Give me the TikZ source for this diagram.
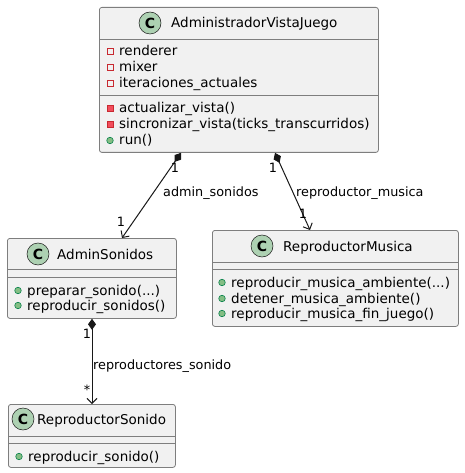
\documentclass[tikz,border=0pt]{standalone}
\usepackage{fontspec}
\setmainfont{DejaVu Sans}
\usetikzlibrary{arrows.meta}
\definecolor{line}{HTML}{181818}
\definecolor{boxline}{HTML}{7E7E7E}
\definecolor{boxbg}{HTML}{F1F1F1}
\definecolor{spotbg}{HTML}{ADD1B2}
\definecolor{privline}{HTML}{C82930}
\definecolor{privbg}{HTML}{F24D5C}
\definecolor{publine}{HTML}{038048}
\definecolor{pubbg}{HTML}{84BE84}

\begin{document}
\begin{tikzpicture}[x=1pt, y=-1pt,
  cls/.style={draw=boxline, fill=boxbg, line width=0.8pt, rounded corners=2.5pt, anchor=north west, inner sep=0pt},
  sep/.style={draw=boxline, line width=0.8pt},
  spot/.style={circle, draw=line, fill=spotbg, line width=0.5pt, minimum size=22pt, inner sep=0pt, font=\fontsize{14}{14}\selectfont\bfseries},
  title/.style={anchor=base west, inner sep=0pt, font=\fontsize{13.5}{16}\selectfont},
  mem/.style={anchor=base west, inner sep=0pt, font=\fontsize{13.5}{16}\selectfont},
  privf/.style={rectangle, draw=privline, line width=0.6pt, minimum size=6pt, inner sep=0pt},
  privm/.style={privf, fill=privbg},
  pubm/.style={circle, draw=publine, fill=pubbg, line width=0.6pt, minimum size=6.5pt, inner sep=0pt},
  lbl/.style={anchor=base west, inner sep=0pt, font=\fontsize{12.8}{15}\selectfont},
  mult/.style={inner sep=0pt, font=\fontsize{12.8}{15}\selectfont},
  comp/.style={draw=line, line width=1pt, {Diamond[length=11pt,width=8pt]}-{Straight Barb[length=5pt,width=10pt]}}]
  \useasboundingbox (0,0) rectangle (464,473);

  % AdministradorVistaJuego
  \node[cls, minimum width=279pt, minimum height=145pt] (av) at (99,7) {};
  \draw[sep] ([yshift=-32pt]av.north west) -- ([yshift=-32pt]av.north east);
  \draw[sep] ([yshift=-88pt]av.north west) -- ([yshift=-88pt]av.north east);
  \node[spot]  (av-c)  at (150,23) {C};
  \node[title] (av-t)  at (171,28) {AdministradorVistaJuego};
  \node[privf] (av-i1) at (110,51.5) {};
  \node[mem]   (av-f1) at (119,56) {renderer};
  \node[privf] (av-i2) at (110,67.5) {};
  \node[mem]   (av-f2) at (119,72) {mixer};
  \node[privf] (av-i3) at (110,83.5) {};
  \node[mem]   (av-f3) at (119,88) {iteraciones\_actuales};
  \node[privm] (av-i4) at (110,108.5) {};
  \node[mem]   (av-m1) at (119,113) {actualizar\_vista()};
  \node[privm] (av-i5) at (110,124.5) {};
  \node[mem]   (av-m2) at (119,129) {sincronizar\_vista(ticks\_transcurridos)};
  \node[pubm]  (av-i6) at (110,140.5) {};
  \node[mem]   (av-m3) at (119,145) {run()};

  % AdminSonidos
  \node[cls, minimum width=169pt, minimum height=80pt] (as) at (7,238) {};
  \draw[sep] ([yshift=-31pt]as.north west) -- ([yshift=-31pt]as.north east);
  \draw[sep] ([yshift=-39pt]as.north west) -- ([yshift=-39pt]as.north east);
  \node[spot]  (as-c)  at (38,254) {C};
  \node[title] (as-t)  at (57,259) {AdminSonidos};
  \node[pubm]  (as-i1) at (18,290.5) {};
  \node[mem]   (as-m1) at (27,295) {preparar\_sonido(...)};
  \node[pubm]  (as-i2) at (18,305.5) {};
  \node[mem]   (as-m2) at (27,310) {reproducir\_sonidos()};

  % ReproductorMusica
  \node[cls, minimum width=246pt, minimum height=96pt] (rm) at (212,230) {};
  \draw[sep] ([yshift=-32pt]rm.north west) -- ([yshift=-32pt]rm.north east);
  \draw[sep] ([yshift=-39pt]rm.north west) -- ([yshift=-39pt]rm.north east);
  \node[spot]  (rm-c)  at (262,246) {C};
  \node[title] (rm-t)  at (283,251) {ReproductorMusica};
  \node[pubm]  (rm-i1) at (222,282.5) {};
  \node[mem]   (rm-m1) at (231,287) {reproducir\_musica\_ambiente(...)};
  \node[pubm]  (rm-i2) at (222,298.5) {};
  \node[mem]   (rm-m2) at (231,303) {detener\_musica\_ambiente()};
  \node[pubm]  (rm-i3) at (222,313.5) {};
  \node[mem]   (rm-m3) at (231,318) {reproducir\_musica\_fin\_juego()};

  % ReproductorSonido
  \node[cls, minimum width=167pt, minimum height=63pt] (rs) at (8,404) {};
  \draw[sep] ([yshift=-32pt]rs.north west) -- ([yshift=-32pt]rs.north east);
  \draw[sep] ([yshift=-39pt]rs.north west) -- ([yshift=-39pt]rs.north east);
  \node[spot]  (rs-c)  at (23,419) {C};
  \node[title] (rs-t)  at (37,424) {ReproductorSonido};
  \node[pubm]  (rs-i1) at (19,456.5) {};
  \node[mem]   (rs-m1) at (28,461) {reproducir\_sonido()};

  % composiciones
  \draw[comp] ([xshift=82pt]av.south west) -- ([xshift=115pt]as.north west);
  \draw[comp] ([xshift=176pt]av.south west) -- ([xshift=98pt]rm.north west);
  \draw[comp] ([xshift=85pt]as.south west) -- ([xshift=84pt]rs.north west);

  \node[lbl]  (l1) at (163,196) {admin\_sonidos};
  \node[mult] (l1a) at (175,168) {1};
  \node[mult] (l1b) at (121,222) {1};
  \node[lbl]  (l2) at (296,196) {reproductor\_musica};
  \node[mult] (l2a) at (273,168) {1};
  \node[mult] (l2b) at (303,214) {1};
  \node[lbl]  (l3) at (93,369) {reproductores\_sonido};
  \node[mult] (l3a) at (87,334) {1};
  \node[mult] (l3b) at (87,390) {*};
\end{tikzpicture}
\end{document}
